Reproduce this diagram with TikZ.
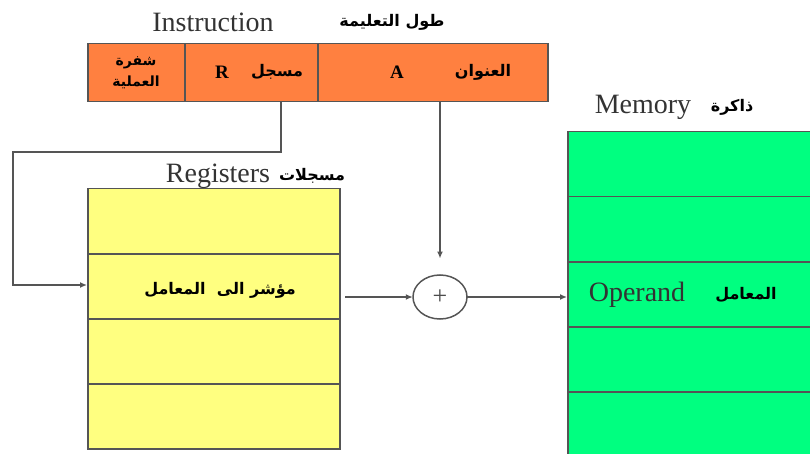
\documentclass[tikz,border=0pt]{standalone}
\usepackage{fontspec}
\setmainfont{Liberation Serif}
\newfontfamily\arabicfont[Script=Arabic]{DejaVu Sans}
\TeXXeTstate=1
\usetikzlibrary{arrows.meta}
\definecolor{orng}{RGB}{255,128,64}
\definecolor{yel}{RGB}{255,255,128}
\definecolor{grn}{RGB}{0,255,128}
\definecolor{edge}{RGB}{85,85,85}
\tikzset{
  cell/.style={draw=edge, line width=1.5pt, inner sep=0pt, anchor=north west},
  conn/.style={draw=edge, line width=1.5pt},
  tip/.style={-{Latex[length=7pt,width=6pt]}},
  lat/.style={font=\fontsize{28}{30}\selectfont, text=black!80, inner sep=0pt},
  ar/.style={font=\arabicfont\bfseries\fontsize{16}{18}\selectfont, inner sep=0pt},
}
\begin{document}
\begin{tikzpicture}[x=1pt,y=-1pt]
\useasboundingbox (0,0) rectangle (810,454);
% instruction
\node[cell, fill=orng, minimum width=97pt, minimum height=58pt] (op) at (87,43) {};
\node[cell, fill=orng, minimum width=133pt, minimum height=58pt] (reg) at (184,43) {};
\node[cell, fill=orng, minimum width=230pt, minimum height=58pt] (addr) at (317,43) {};
\node[lat] (tinstr) at (213,22) {Instruction};
\node[ar] (tlen) at (392,22) {\beginR طول التعليمة\endR};
\node[ar, align=center, font=\arabicfont\bfseries\fontsize{14}{21}\selectfont] (topc) at (136,73) {\beginR شفرة\endR\\\beginR العملية\endR};
\node[font=\bfseries\fontsize{19}{21}\selectfont, inner sep=0pt] (tR) at (222,72) {R};
\node[ar] (treg) at (277,72) {\beginR مسجل\endR};
\node[font=\bfseries\fontsize{19}{21}\selectfont, inner sep=0pt] (tA) at (397,72) {A};
\node[ar] (taddr) at (483,72) {\beginR العنوان\endR};
% registers
\node[cell, fill=yel, minimum width=252pt, minimum height=65pt] (r1) at (87,188) {};
\node[cell, fill=yel, minimum width=252pt, minimum height=65pt] (r2) at (87,253) {};
\node[cell, fill=yel, minimum width=252pt, minimum height=65pt] (r3) at (87,318) {};
\node[cell, fill=yel, minimum width=252pt, minimum height=65pt] (r4) at (87,383) {};
\node[lat] (treglbl) at (218,176) {Registers};
\node[ar] (tregar) at (312,176) {\beginR مسجلات\endR};
\node[ar] (tptr) at (220,290) {\beginR مؤشر الى \ المعامل\endR};
% memory
\node[cell, fill=grn, minimum width=260pt, minimum height=65pt] (m1) at (567,131) {};
\node[cell, fill=grn, minimum width=260pt, minimum height=65pt] (m2) at (567,196) {};
\node[cell, fill=grn, minimum width=260pt, minimum height=65pt] (m3) at (567,261) {};
\node[cell, fill=grn, minimum width=260pt, minimum height=65pt] (m4) at (567,326) {};
\node[cell, fill=grn, minimum width=260pt, minimum height=65pt] (m5) at (567,391) {};
\node[lat] (tmem) at (643,107) {Memory};
\node[ar] (tmemar) at (732,107) {\beginR ذاكرة\endR};
\node[lat] (topnd) at (637,295) {Operand};
\node[ar] (topar) at (746,295) {\beginR المعامل\endR};
% adder
\draw[conn] (440,297) ellipse (27pt and 22pt);
\node[inner sep=0pt, minimum width=54pt, minimum height=44pt, font=\fontsize{26}{28}\selectfont, text=black!70] (plus) at (440,297) {+};
% connectors
\coordinate (c1) at (281,152);
\coordinate (c2) at (13,152);
\coordinate (c3) at (13,285);
\draw[conn, tip] (reg.south -| c1) -- (c1) -- (c2) -- (c3) -- (c3 -| r2.west);
\draw[conn, tip] (addr.south -| plus) -- ++(0,156);
\coordinate (s1) at (345,297);
\draw[conn, tip] (s1) -- (plus.west);
\draw[conn, tip] (plus.east) -- (plus.east -| m3.west);
\end{tikzpicture}
\end{document}
